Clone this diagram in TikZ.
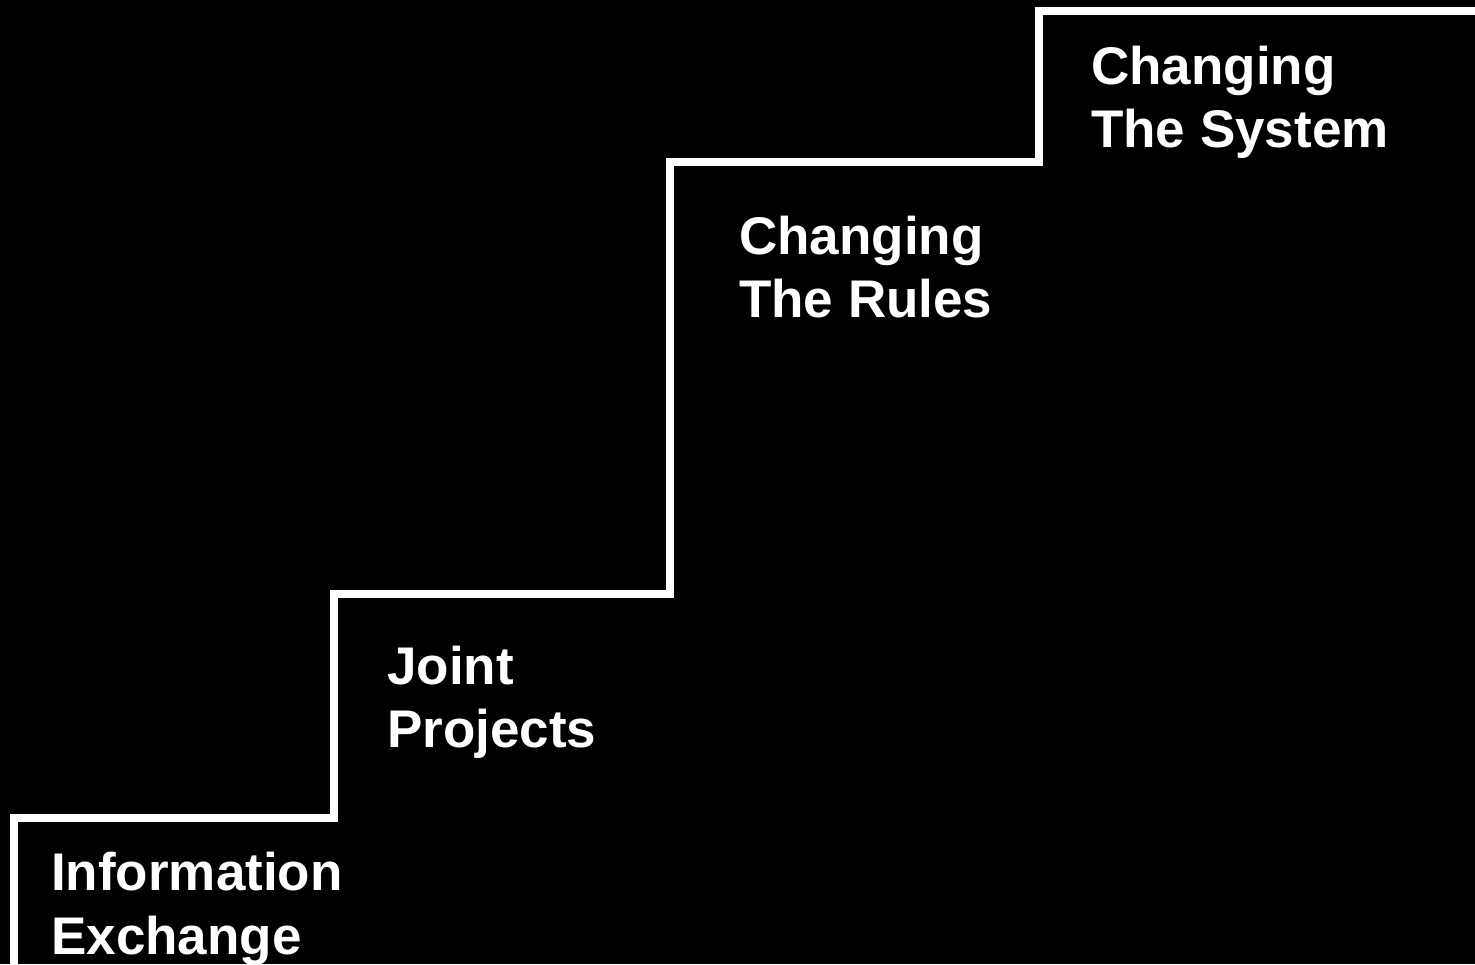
\documentclass[tikz,border=0pt]{standalone}
\usepackage{fontspec}
\setmainfont{Liberation Sans}
\usetikzlibrary{positioning}

\begin{document}
\begin{tikzpicture}[x=1pt, y=1pt,
    stufe/.style={white, line width=8pt, miter limit=10},
    label/.style={white, anchor=base west, inner sep=0pt, align=left,
        font=\bfseries\fontsize{53}{63.6}\selectfont}]
            \fill [black] (0,0) rectangle (1475,964);   %Hintergrund
            \useasboundingbox (0,0) rectangle (1475,964);
            \draw [stufe] (14,0) -- (14,146) -- (334,146) -- (334,370)
                -- (670,370) -- (670,802) -- (1039,802) -- (1039,953) -- (1475,953); %Treppe
            \node [label] (info)   at (51,10)   {Information\\Exchange};
            \node [label] (joint)  at (387,216) {Joint\\Projects};
            \node [label] (rules)  at (739,646) {Changing\\The Rules};
            \node [label] (system) at (1091,816) {Changing\\The System};
        \end{tikzpicture}
\end{document}
